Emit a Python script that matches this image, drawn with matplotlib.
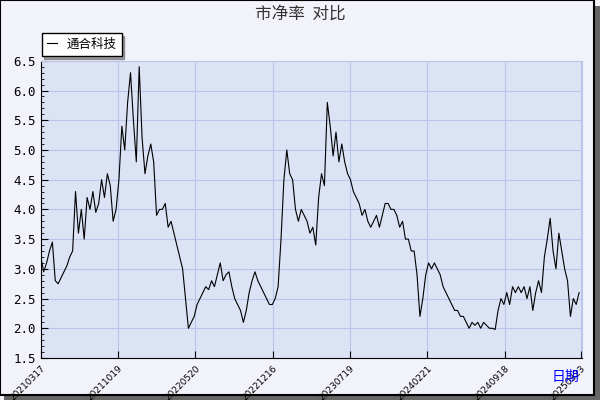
import matplotlib
matplotlib.use("Agg")
import matplotlib.pyplot as plt
from matplotlib.patches import Rectangle
import numpy as np

plt.rcParams['font.family'] = ['Noto Sans CJK SC', 'DejaVu Sans']

series_name = "通合科技"
pb_values = [3.2,2.95,3.1,3.3,3.45,2.8,2.75,2.85,2.95,3.05,3.2,3.3,4.3,3.6,4.0,3.5,4.2,4.0,4.3,3.95,
 4.1,4.5,4.2,4.6,4.4,3.8,4.0,4.5,5.4,5.0,5.8,6.3,5.5,4.8,6.4,5.2,4.6,4.9,5.1,4.8,
 3.9,4.0,4.0,4.1,3.7,3.8,3.6,3.4,3.2,3.0,2.5,2.0,2.1,2.2,2.4,2.5,2.6,2.7,2.65,2.8,
 2.7,2.9,3.1,2.8,2.9,2.95,2.7,2.5,2.4,2.3,2.1,2.3,2.6,2.8,2.95,2.8,2.7,2.6,2.5,2.4,
 2.4,2.5,2.7,3.5,4.5,5.0,4.6,4.5,4.0,3.8,4.0,3.9,3.8,3.6,3.7,3.4,4.2,4.6,4.4,5.8,
 5.4,4.9,5.3,4.8,5.1,4.8,4.6,4.5,4.3,4.2,4.1,3.9,4.0,3.8,3.7,3.8,3.9,3.7,3.9,4.1,
 4.1,4.0,4.0,3.9,3.7,3.8,3.5,3.5,3.3,3.3,2.9,2.2,2.5,2.9,3.1,3.0,3.1,3.0,2.9,2.7,
 2.6,2.5,2.4,2.3,2.3,2.2,2.2,2.1,2.0,2.1,2.05,2.1,2.0,2.1,2.05,2.0,2.0,1.98,2.3,2.5,
 2.4,2.6,2.4,2.7,2.6,2.7,2.6,2.7,2.5,2.7,2.3,2.6,2.8,2.6,3.2,3.5,3.85,3.3,3.0,3.6,
 3.3,3.0,2.8,2.2,2.5,2.4,2.6]
tick_labels = ["20210317","20211019","20220520","20221216","20230719","20240221","20240918","20250323"]
yticks = [1.5,2.0,2.5,3.0,3.5,4.0,4.5,5.0,5.5,6.0,6.5]

fig = plt.figure(figsize=(6,4), dpi=100)
fig.patch.set_facecolor('#f2f2fa')
fig.patches.append(Rectangle((0.006,0.0),0.994,0.985,transform=fig.transFigure,facecolor='#666666',edgecolor='none',zorder=-2))
fig.patches.append(Rectangle((0.0,0.012),0.99,0.988,transform=fig.transFigure,facecolor='#f2f2fa',edgecolor='black',lw=1.5,zorder=-1))

ax = fig.add_axes([0.068, 0.105, 0.902, 0.743])
ax.set_facecolor('#dce3f5')
n = len(pb_values)
x = np.arange(n)
ax.plot(x, pb_values, color='black', lw=0.8)
ax.set_xlim(0, n)
ax.set_ylim(1.5, 6.5)
ax.set_yticks(yticks)
ax.set_yticklabels([f"{v:.1f}" for v in yticks], fontfamily='DejaVu Sans Mono', fontsize=9)
ax.set_yticks(np.arange(1.5, 6.51, 0.1), minor=True)
tpos = np.linspace(0, n, len(tick_labels))
tpos[-1] = n - 0.5
ax.set_xticks(tpos)
ax.set_xticklabels(tick_labels, rotation=45, ha='right', va='top', rotation_mode='anchor',
                   fontsize=6.5, fontfamily='DejaVu Sans')
ax.tick_params(axis='y', direction='in', length=5)
ax.tick_params(axis='y', which='minor', direction='in', length=2)
ax.tick_params(axis='x', direction='in', length=5, pad=4)
ax.grid(True, color='#b8c6ea', lw=0.8)
for s in ['top','right']:
    ax.spines[s].set_color('#b8c6ea')
ax.set_axisbelow(True)

fig.text(0.5, 0.965, "市净率  对比", ha='center', va='center', fontsize=12, color='#333333')
fig.text(0.965, 0.058, "日期", ha='right', va='center', fontsize=10, color='blue')

leg = ax.legend([series_name], loc='upper left', bbox_to_anchor=(-0.01, 1.115), fontsize=9,
                fancybox=False, shadow=True, handlelength=0.8, borderpad=0.4, framealpha=1)
leg.get_frame().set_edgecolor('black')
fig.savefig('out.png', dpi=100, facecolor=fig.get_facecolor())
